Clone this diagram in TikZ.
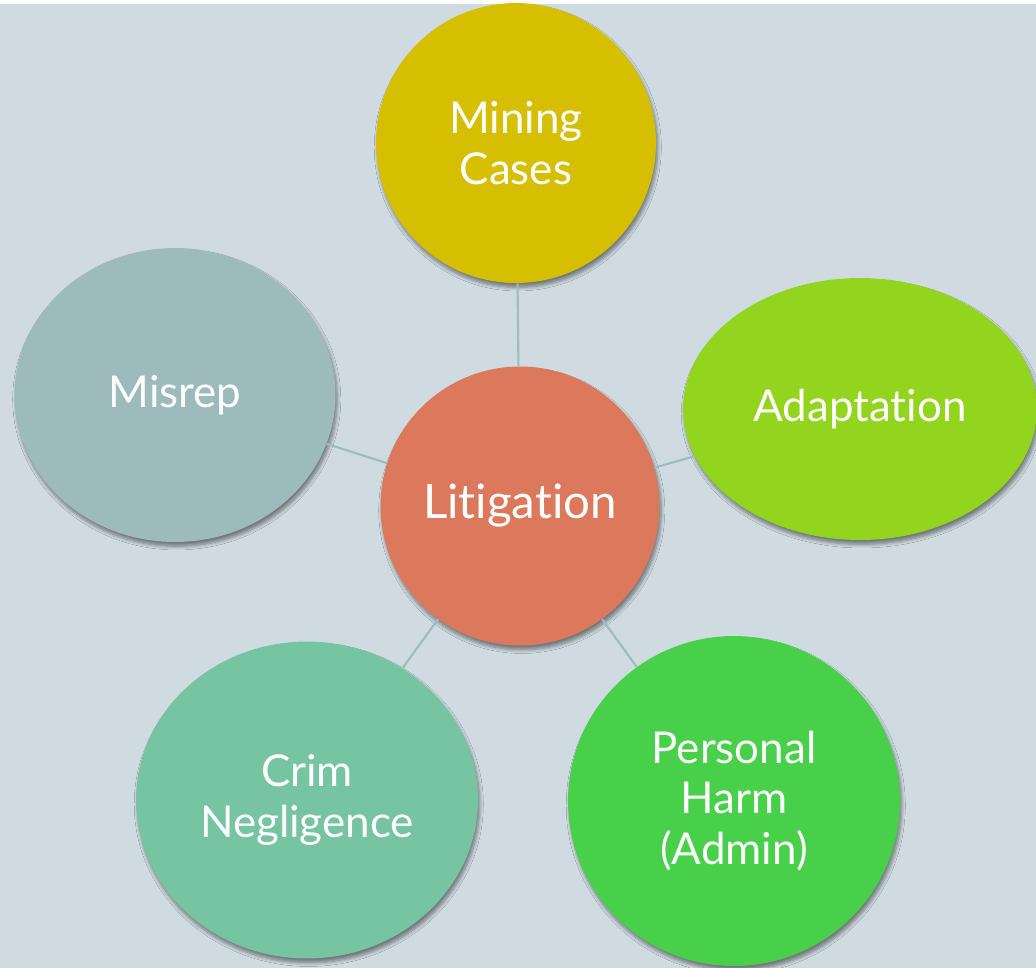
\documentclass[tikz,border=0pt]{standalone}
\usepackage{fontspec}
\setmainfont{Lato}[Ligatures={NoCommon}]
\usetikzlibrary{shapes.geometric,shadows.blur}
\definecolor{bgc}{RGB}{207,219,224}
\definecolor{minec}{RGB}{213,191,0}
\definecolor{adapc}{RGB}{147,212,30}
\definecolor{misc}{RGB}{157,187,189}
\definecolor{litc}{RGB}{220,120,91}
\definecolor{crimc}{RGB}{118,196,162}
\definecolor{harmc}{RGB}{72,208,74}
\definecolor{linkc}{RGB}{156,189,190}
\begin{document}
\begin{tikzpicture}[x=0.02cm,y=-0.02cm,
    bubble/.style={ellipse,inner sep=0pt,text=white,align=center,
        font=\fontsize{25}{29}\selectfont,
        blur shadow={shadow xshift=1pt,shadow yshift=-2.5pt,shadow blur steps=6,shadow opacity=45}},
    link/.style={draw=linkc,line width=1.2pt}]
    \useasboundingbox (0,0) rectangle (1036,968);
    \fill[white] (0,0) rectangle (1036,968);
    \fill[bgc] (0,4) rectangle (1036,968);
    % outer bubbles
    \node[bubble,fill=minec,minimum width=5.6cm,minimum height=5.6cm] (mine) at (516,143) {Mining\\Cases};
    \node[bubble,fill=adapc,minimum width=7.08cm,minimum height=5.24cm] (adap) at (860,409) {Adaptation};
    \node[bubble,fill=misc,minimum width=6.42cm,minimum height=5.88cm] (misrep) at (175,395) {Misrep};
    \node[bubble,fill=crimc,minimum width=6.84cm,minimum height=6.34cm] (crim) at (307,800) {Crim\\Negligence};
    \node[bubble,fill=harmc,minimum width=6.64cm,minimum height=6.6cm] (harm) at (734,801) {Personal\\Harm\\(Admin)};
    % centre
    \node[bubble,fill=litc,minimum width=5.58cm,minimum height=5.58cm,
        font=\fontsize{27}{31}\selectfont] (lit) at (520,506) {Litigation};
    \foreach \n in {mine,adap,misrep,crim,harm}
        \draw[link] (lit) -- (\n);
\end{tikzpicture}
\end{document}
